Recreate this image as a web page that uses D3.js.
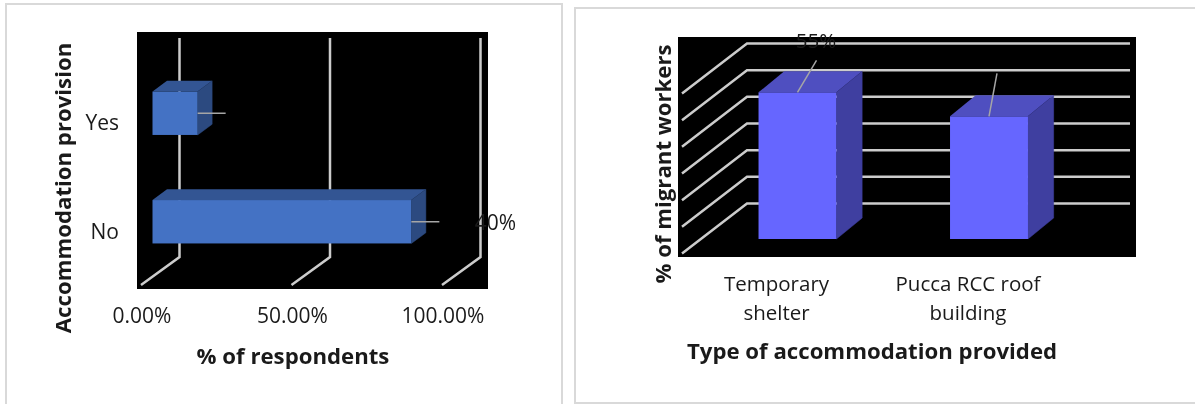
<!DOCTYPE html>
<html>
<head>
<meta charset="utf-8">
<script src="https://d3js.org/d3.v7.min.js"></script>
<style>
html, body { margin: 0; padding: 0; background: #fff; overflow: hidden; }
svg { filter: blur(0.4px); }
text { font-family: "Open Sans", sans-serif; fill: #1a1a1a; }
</style>
</head>
<body>
<script>
var width = 1195, height = 404;

// left chart
var answers = ["Yes", "No"];
var answerValues = [15, 86];
var answerTicks = [0, 50, 100];
// right chart
var shelterTypes = ["Temporary shelter", "Pucca RCC roof building"];
var shelterLines = [["Temporary", "shelter"], ["Pucca RCC roof", "building"]];
var shelterValues = [55, 46];
var shelterGrid = [0, 10, 20, 30, 40, 50, 60];

var svg = d3.select("body").append("svg").attr("width", width).attr("height", height);

function panel(x, y, w, h) {
  svg.append("rect").attr("x", x).attr("y", y).attr("width", w).attr("height", h)
    .attr("fill", "#fff").attr("stroke", "#d9d9d9").attr("stroke-width", 2);
}
panel(6, 4, 556, 410);
panel(575, 8, 640, 395);

// --- left chart: horizontal 3d bars ---
svg.append("rect").attr("x", 137).attr("y", 32).attr("width", 351).attr("height", 257).attr("fill", "#000");

var x = d3.scaleLinear().domain([0, 100]).range([152.5, 453.5]);
var y = d3.scaleBand().domain(answers).range([59, 276]).paddingInner(0.6).paddingOuter(0.3);

var gridColor = "#cccccc";
answerTicks.forEach(function(t) {
  var bx = x(t) + 27;
  svg.append("path")
    .attr("d", d3.line()([[x(t) - 11.5, 285], [bx, 257], [bx, 38]]))
    .attr("fill", "none").attr("stroke", gridColor).attr("stroke-width", 2.5);
  svg.append("text").attr("x", x(t) - 10.5).attr("y", 323).attr("text-anchor", "middle")
    .attr("font-size", 21).text(d3.format(".2f")(t) + "%");
});

var dx1 = 14.5, dy1 = -10.7;
answers.forEach(function(a, i) {
  var x0 = x(0), x1 = x(answerValues[i]), y0 = y(a), y1 = y0 + y.bandwidth();
  svg.append("path").attr("fill", "#335593")
    .attr("d", d3.line()([[x0, y0], [x0 + dx1, y0 + dy1], [x1 + dx1, y0 + dy1], [x1, y0]]));
  svg.append("path").attr("fill", "#2c4a80").attr("stroke", "#2c4a80").attr("stroke-width", 0.5)
    .attr("d", d3.line()([[x1, y0], [x1 + dx1, y0 + dy1], [x1 + dx1, y1 + dy1], [x1, y1]]));
  svg.append("rect").attr("x", x0).attr("y", y0).attr("width", x1 - x0).attr("height", y1 - y0).attr("fill", "#4472c4");
  // leader line
  svg.append("line").attr("x1", x1).attr("x2", x1 + 28).attr("y1", y0 + y.bandwidth() / 2).attr("y2", y0 + y.bandwidth() / 2)
    .attr("stroke", "#a6a6a6").attr("stroke-width", 1.5);
  svg.append("text").attr("x", 119).attr("y", y0 + y.bandwidth() / 2 + 17).attr("text-anchor", "end")
    .attr("font-size", 21).text(a);
});
svg.append("text").attr("x", 516).attr("y", 230).attr("text-anchor", "end").attr("font-size", 21).text("40%");

svg.append("text").attr("x", 293).attr("y", 364).attr("text-anchor", "middle")
  .attr("font-size", 22.2).attr("font-weight", 700).text("% of respondents");
svg.append("text").attr("transform", "translate(71,188) rotate(-90)").attr("text-anchor", "middle")
  .attr("font-size", 22.2).attr("font-weight", 700).text("Accommodation provision");

// --- right chart: vertical 3d bars ---
svg.append("rect").attr("x", 678).attr("y", 37).attr("width", 458).attr("height", 220).attr("fill", "#000");

var x2 = d3.scaleBand().domain(shelterTypes).range([701.75, 1084.75]).paddingInner(0.593).paddingOuter(0.2965);
var y2 = d3.scaleLinear().domain([0, 60]).range([239, 79]);

shelterGrid.forEach(function(t) {
  var by = y2(t) - 35.5;
  svg.append("path")
    .attr("d", d3.line()([[682, by + 50], [747, by], [1130, by]]))
    .attr("fill", "none").attr("stroke", gridColor).attr("stroke-width", 2.5);
});

var dx2 = 25.7, dy2 = -21;
shelterTypes.forEach(function(s, i) {
  var x0 = x2(s), x1 = x0 + x2.bandwidth(), y0 = y2(shelterValues[i]), y1 = y2(0);
  svg.append("path").attr("fill", "#4f4fc0")
    .attr("d", d3.line()([[x0, y0], [x0 + dx2, y0 + dy2], [x1 + dx2, y0 + dy2], [x1, y0]]));
  svg.append("path").attr("fill", "#3f3fa0").attr("stroke", "#3f3fa0").attr("stroke-width", 0.5)
    .attr("d", d3.line()([[x1, y0], [x1 + dx2, y0 + dy2], [x1 + dx2, y1 + dy2], [x1, y1]]));
  svg.append("rect").attr("x", x0).attr("y", y0).attr("width", x1 - x0).attr("height", y1 - y0).attr("fill", "#6666ff");
  var mid = (x0 + x1) / 2;
  svg.append("line").attr("x1", mid).attr("y1", y0)
    .attr("x2", mid + (i ? 8 : 19)).attr("y2", y0 - (i ? 43 : 32))
    .attr("stroke", "#a6a6a6").attr("stroke-width", 1.5);
  var t = svg.append("text").attr("text-anchor", "middle").attr("font-size", 20.5);
  shelterLines[i].forEach(function(l, j) {
    t.append("tspan").attr("x", mid - 21).attr("y", 291 + j * 28.5).text(l);
  });
});
svg.append("text").attr("x", 816).attr("y", 48).attr("text-anchor", "middle").attr("font-size", 20.5).text("55%");

svg.append("text").attr("x", 872).attr("y", 359).attr("text-anchor", "middle")
  .attr("font-size", 22.2).attr("font-weight", 700).text("Type of accommodation provided");
svg.append("text").attr("transform", "translate(671,164) rotate(-90)").attr("text-anchor", "middle")
  .attr("font-size", 22.2).attr("font-weight", 700).text("% of migrant workers");
</script>
</body>
</html>
